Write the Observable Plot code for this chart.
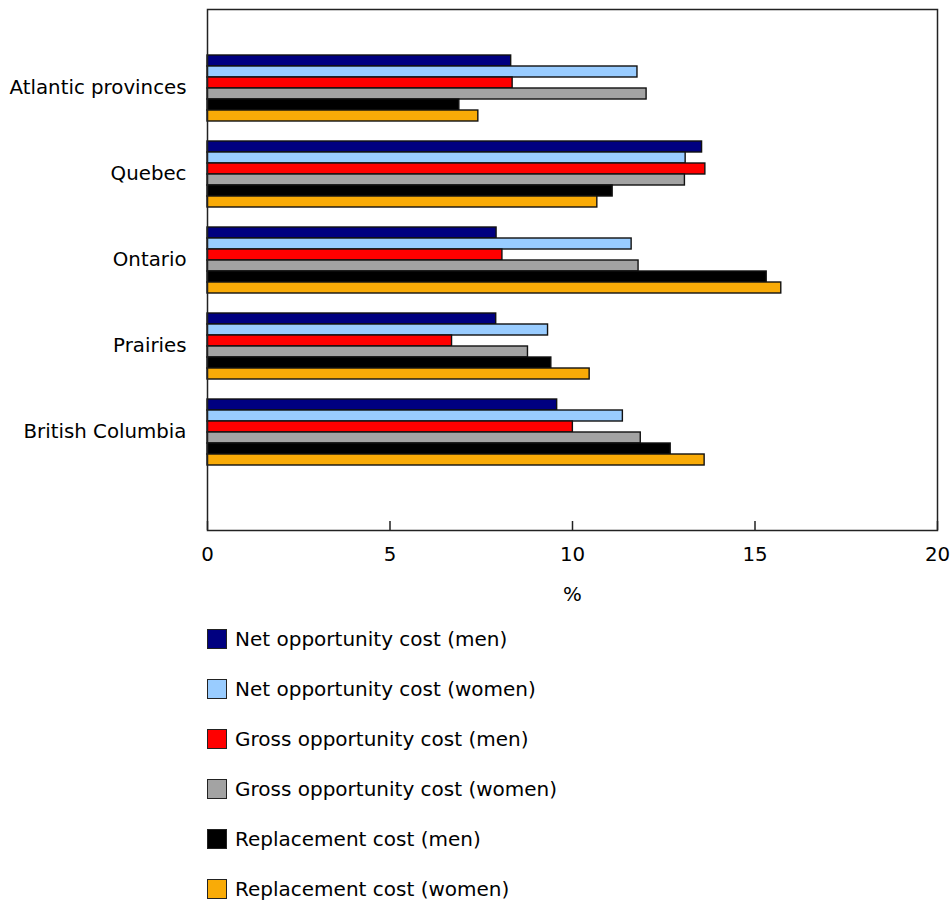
<!DOCTYPE html>
<html><head><meta charset="utf-8">
<script src="https://cdn.jsdelivr.net/npm/d3@7"></script>
<script src="https://cdn.jsdelivr.net/npm/@observablehq/plot@0.6"></script>
<style>
body{margin:0;background:#fff;font-family:Verdana,"DejaVu Sans",sans-serif;color:#000}
#legend{margin-left:207px;padding-top:4px}
.row{display:flex;align-items:center;height:50px;font-size:20px}
.sw{width:18px;height:18px;border:1.5px solid #222;margin-right:8px;flex:none}
</style></head><body><div id="chart"></div><div id="legend"></div>
<script>
const regions = ["Atlantic provinces", "Quebec", "Ontario", "Prairies", "British Columbia"];
const seriesNames = ["Net opportunity cost (men)", "Net opportunity cost (women)", "Gross opportunity cost (men)", "Gross opportunity cost (women)", "Replacement cost (men)", "Replacement cost (women)"];
const seriesColors = ["#000080", "#99ccff", "#ff0000", "#a3a3a3", "#000000", "#f9ab07"];
const netMen = [8.32, 13.55, 7.92, 7.91, 9.58];
const netWomen = [11.78, 13.10, 11.62, 9.33, 11.38];
const grossMen = [8.36, 13.64, 8.08, 6.70, 10.01];
const grossWomen = [12.03, 13.08, 11.81, 8.78, 11.87];
const replMen = [6.90, 11.10, 15.32, 9.42, 12.69];
const replWomen = [7.42, 10.68, 15.72, 10.47, 13.62];
const xTicks = [0, 5, 10, 15, 20];

const seriesValues = [netMen, netWomen, grossMen, grossWomen, replMen, replWomen];
const data = [];
regions.forEach((r, i) => seriesNames.forEach((s, j) => data.push({region: r, series: s, value: seriesValues[j][i]})));

const font = 'Verdana, "DejaVu Sans", sans-serif';
const W = 951, H = 610, MT = 9, MB = 80;

function makePlot(gaps) {
  const marks = [
    Plot.barX(data, {x: "value", y: "series", fy: "region", fill: "series", stroke: "#111", strokeWidth: 1.4})
  ];
  if (gaps) {
    marks.push(Plot.frame({facet: "super", stroke: "#222", strokeWidth: 1.5, insetTop: -gaps.top, insetBottom: -gaps.bottom}));
    marks.push(Plot.axisX({ticks: xTicks, dy: gaps.bottom, tickSize: -9, tickPadding: 25, stroke: "#222", strokeWidth: 1.5,
      label: "%", labelAnchor: "center", labelOffset: gaps.bottom + 70, labelArrow: "none"}));
  }
  return Plot.plot({
    width: W, height: H,
    marginLeft: 207, marginRight: 14, marginTop: MT, marginBottom: MB,
    style: {fontFamily: font, fontSize: "19.8px", color: "#000", background: "#fff"},
    x: {domain: [0, 20], axis: null},
    y: {domain: seriesNames, padding: 0, axis: null},
    fy: {domain: regions, paddingInner: 0.2, paddingOuter: 0.6, align: 0.41, axis: "left", tickSize: 0, tickPadding: 21, label: null},
    color: {domain: seriesNames, range: seriesColors},
    marks
  });
}

const probe = makePlot(null);
const fyScale = probe.scale("fy");
const gaps = {
  top: fyScale.apply(regions[0]) - MT,
  bottom: (H - MB) - (fyScale.apply(regions[regions.length - 1]) + fyScale.bandwidth)
};
const plot = makePlot(gaps);
document.getElementById("chart").appendChild(plot);

const legend = document.getElementById("legend");
seriesNames.forEach((s, j) => {
  const row = document.createElement("div");
  row.className = "row";
  const sw = document.createElement("span");
  sw.className = "sw";
  sw.style.background = seriesColors[j];
  const t = document.createElement("span");
  t.textContent = s;
  row.appendChild(sw); row.appendChild(t);
  legend.appendChild(row);
});
</script></body></html>
